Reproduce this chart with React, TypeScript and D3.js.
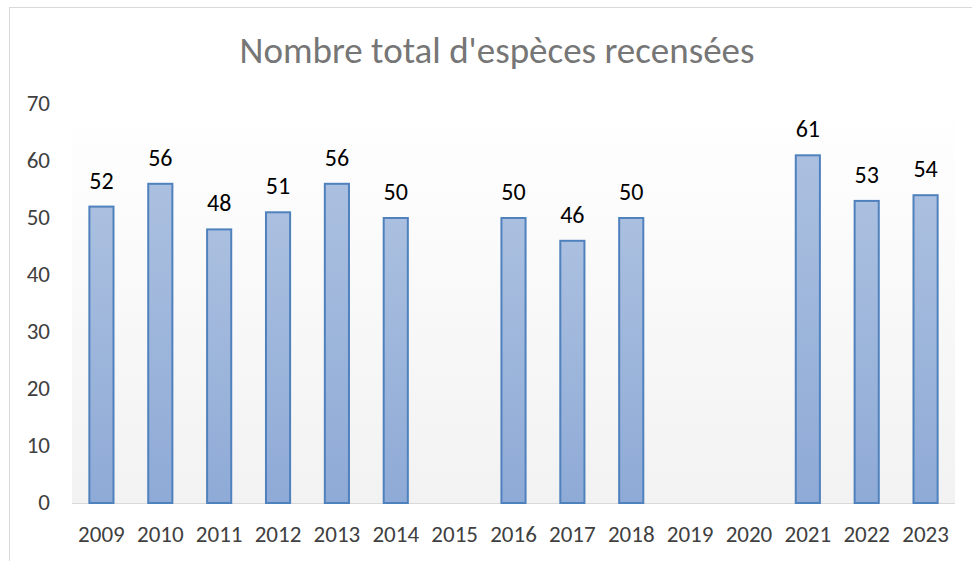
import React from 'react';
import * as d3 from 'd3';

const YEARS = ['2009', '2010', '2011', '2012', '2013', '2014', '2015', '2016', '2017', '2018', '2019', '2020', '2021', '2022', '2023'];
const COUNTS: (number | null)[] = [52, 56, 48, 51, 56, 50, null, 50, 46, 50, null, null, 61, 53, 54];
const Y_TICKS = [0, 10, 20, 30, 40, 50, 60, 70];
const TITLE = "Nombre total d'espèces recensées";

const W = 972;
const H = 561;
const FONT = 'Carlito, Lato, "Liberation Sans", sans-serif';

export default function App() {
  const x = d3.scaleBand<string>()
    .domain(YEARS)
    .range([72, 955])
    .paddingInner(0.59)
    .paddingOuter(0.295);
  const y = d3.scaleLinear().domain([0, 70]).range([503, 104]);

  return (
    <div style={{ position: 'fixed', left: 0, top: 0 }}>
      <svg width={W} height={H} style={{ display: 'block', background: '#fff' }}>
        <defs>
          <linearGradient id="plotBg" x1="0" y1="0" x2="0" y2="1">
            <stop offset="0" stopColor="#ffffff" />
            <stop offset="1" stopColor="#f2f2f2" />
          </linearGradient>
          <linearGradient id="barFill" x1="0" y1="0" x2="0" y2="1">
            <stop offset="0" stopColor="#abc0e0" />
            <stop offset="1" stopColor="#8eaad6" />
          </linearGradient>
        </defs>

        {/* chart frame */}
        <rect x={9.5} y={7.5} width={W + 10} height={H + 10} fill="#fff" stroke="#d9d9d9" strokeWidth={1} />

        {/* plot area */}
        <rect x={72} y={y(70)} width={955 - 72} height={y(0) - y(70)} fill="url(#plotBg)" />

        <text x={497} y={63} textAnchor="middle" fontFamily={FONT} fontSize={37} fill="#767676">
          {TITLE}
        </text>

        {/* y axis labels */}
        {Y_TICKS.map(t => (
          <text key={t} x={50} y={y(t) + 2} textAnchor="end" dominantBaseline="middle"
            fontFamily={FONT} fontSize={23} fill="#404040">{t}</text>
        ))}

        {/* baseline */}
        <line x1={72} x2={955} y1={y(0) + 0.5} y2={y(0) + 0.5} stroke="#d9d9d9" strokeWidth={1} />

        {/* bars */}
        {YEARS.map((yr, i) => {
          const v = COUNTS[i];
          if (v == null) return null;
          const bx = x(yr)!;
          return (
            <g key={yr}>
              <rect x={bx} y={y(v)} width={x.bandwidth()} height={y(0) - y(v)}
                fill="url(#barFill)" stroke="#4f81bd" strokeWidth={2} />
              <text x={bx + x.bandwidth() / 2} y={y(v) - 18} textAnchor="middle"
                fontFamily={FONT} fontSize={24} fill="#000">{v}</text>
            </g>
          );
        })}

        {/* x axis labels */}
        {YEARS.map(yr => (
          <text key={yr} x={x(yr)! + x.bandwidth() / 2} y={542} textAnchor="middle"
            fontFamily={FONT} fontSize={23} fill="#404040">{yr}</text>
        ))}
      </svg>
    </div>
  );
}
